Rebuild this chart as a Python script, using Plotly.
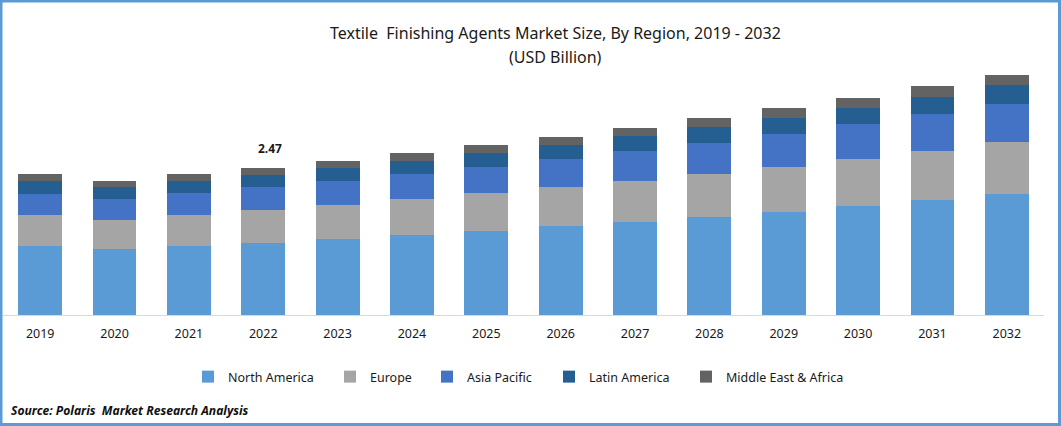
import plotly.graph_objects as go

years = ['2019', '2020', '2021', '2022', '2023', '2024', '2025', '2026', '2027', '2028', '2029', '2030', '2031', '2032']
north_america = [1.159, 1.109, 1.159, 1.210, 1.277, 1.344, 1.411, 1.495, 1.562, 1.646, 1.730, 1.831, 1.932, 2.033]
europe = [0.521, 0.487, 0.521, 0.554, 0.571, 0.605, 0.638, 0.655, 0.689, 0.722, 0.756, 0.790, 0.823, 0.874]
asia_pacific = [0.353, 0.353, 0.370, 0.386, 0.403, 0.420, 0.437, 0.470, 0.504, 0.521, 0.554, 0.588, 0.622, 0.638]
latin_america = [0.218, 0.202, 0.202, 0.202, 0.218, 0.218, 0.235, 0.235, 0.252, 0.269, 0.269, 0.269, 0.286, 0.319]
mea = [0.118, 0.101, 0.118, 0.118, 0.118, 0.134, 0.134, 0.134, 0.134, 0.151, 0.168, 0.168, 0.185, 0.168]

W = 1061
H = 426
FONT = 'Noto Sans'

# name, values, colour, legend id, left edge of legend text in pixels
series = [
    ('North America', north_america, '#5B9BD5', 'legend', 228),
    ('Europe', europe, '#A5A5A5', 'legend2', 370),
    ('Asia Pacific', asia_pacific, '#4472C4', 'legend3', 467),
    ('Latin America', latin_america, '#255E91', 'legend4', 589),
    ('Middle East & Africa', mea, '#636363', 'legend5', 726),
]

fig = go.Figure()
for name, values, color, legend_id, text_x in series:
    fig.add_trace(go.Bar(x=years, y=values, name=name, legend=legend_id, showlegend=True,
                         marker=dict(color=color, line=dict(width=0))))

total_2022 = 2.47

fig.update_layout(
    width=W,
    height=H,
    barmode='stack',
    bargap=0.41,
    showlegend=True,
    margin=dict(l=0, r=0, t=0, b=0),
    paper_bgcolor='white',
    plot_bgcolor='white',
    font=dict(family=FONT, size=12.5, color='#1a1a1a'),
    xaxis=dict(
        domain=[3 / W, 1044 / W],
        type='category',
        range=[-0.5, 13.5],
        showgrid=False,
        showline=True,
        linecolor='#D9D9D9',
        linewidth=1,
        ticks='',
        ticklabelstandoff=7,
        tickfont=dict(size=12.5, color='#1a1a1a'),
    ),
    yaxis=dict(
        domain=[1 - 315 / H, 1 - 40 / H],
        range=[0, 4.62],
        visible=False,
    ),
    annotations=[
        dict(text='Textile  Finishing Agents Market Size, By Region, 2019 - 2032', x=555 / W, y=1 - 33 / H,
             xref='paper', yref='paper', yanchor='middle', showarrow=False, font=dict(size=16, color='#1a1a1a')),
        dict(text='(USD Billion)', x=555 / W, y=1 - 57 / H,
             xref='paper', yref='paper', yanchor='middle', showarrow=False, font=dict(size=16, color='#1a1a1a')),
        dict(text='<b>2.47</b>', x=3, y=total_2022, xref='x', yref='y', xshift=7, yshift=19,
             showarrow=False, font=dict(size=12, color='#1a1a1a')),
        dict(text='<b><i>Source: Polaris  Market Research Analysis</i></b>', x=9 / W, y=1 - 410 / H,
             xref='paper', yref='paper', xanchor='left', yanchor='middle', showarrow=False,
             font=dict(size=12.1, color='#111111')),
    ],
    shapes=[
        dict(type='rect', xref='paper', yref='paper', x0=1 / W, x1=1 - 1.5 / W, y0=1.5 / H, y1=1 - 1 / H,
             line=dict(color='#5B9BD5', width=3)),
    ],
)

for name, values, color, legend_id, text_x in series:
    fig.update_layout({legend_id: dict(
        orientation='h',
        x=(text_x - 40) / W,
        y=1 - 377 / H,
        xanchor='left',
        yanchor='middle',
        bgcolor='rgba(0,0,0,0)',
        font=dict(size=12.5, color='#1a1a1a'),
    )})

fig.write_html('out.html', config=dict(displayModeBar=False),
               post_script="document.body.style.margin='0';document.body.style.overflow='hidden';")
